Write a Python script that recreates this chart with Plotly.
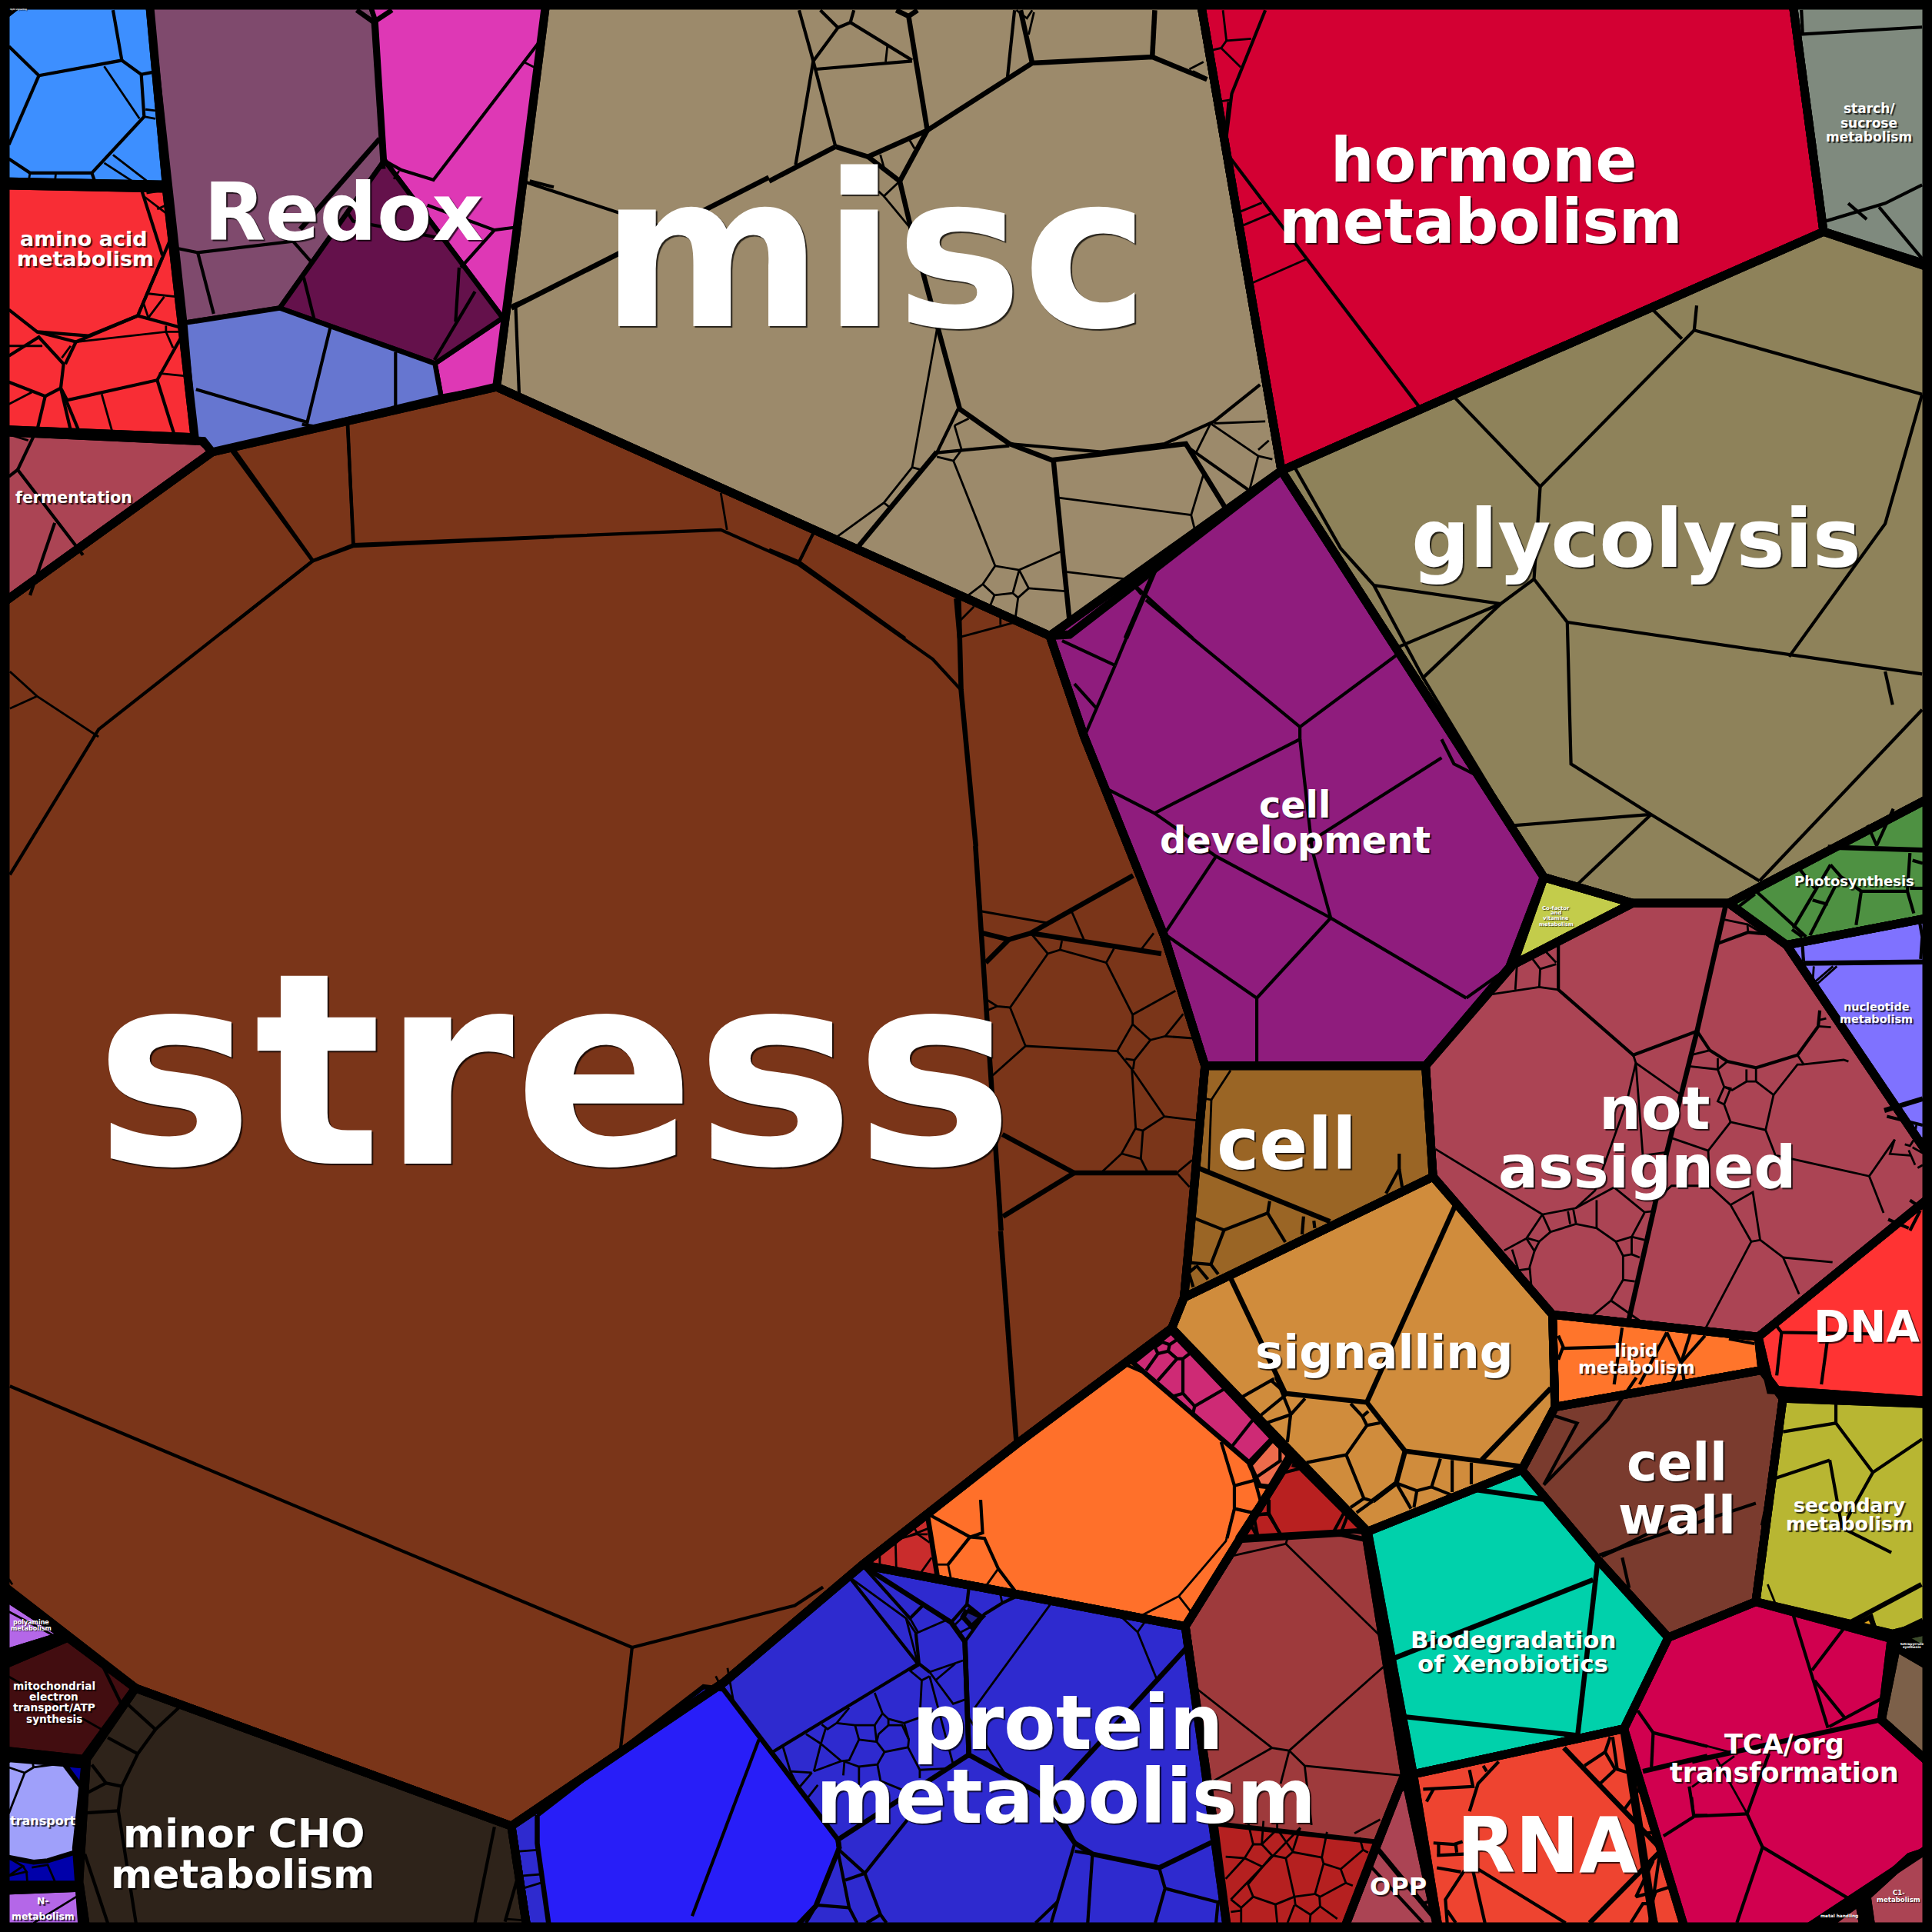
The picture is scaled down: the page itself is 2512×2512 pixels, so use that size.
import plotly.graph_objects as go

# crop frames in which boundary vertices were read: (x0, y0, scale_x, scale_y)
P = (0, 0, 2512 / 1568, 2512 / 1568)
Z1 = (0, 0, 720 / 1568, 820 / 1568)
Z2 = (0, 1960, 720 / 1568, 552 / 1568)
Z3 = (2100, 1000, 1 / 3, 600 / 1568)
Z5 = (2200, 2060, 1 / 3, 1 / 3)
Z7 = (900, 1950, 800 / 1568, 562 / 1568)
Z8 = (1850, 1150, 650 / 1568, 650 / 1568)
Z9 = (1000, 0, 720 / 1568, 830 / 1568)
Z10 = (1200, 1100, 1 / 3, 1 / 3)
Z11 = (1450, 1500, 600 / 1568, 1 / 3)
Z12 = (1520, 1950, 700 / 1568, 562 / 1568)

# region outlines: colour, frame, flat vertex list
regions = [
    ("#7A3519", P, [8,500,172,367,403,314,852,516,880,598,945,760,978,865,966,1000,961,1053,951,1078,825,1172,700,1270,588,1365,415,1482,110,1370,8,1275]),
    ("#9C8A6B", P, [445,8,972,8,1040,382,868,515,852,516,403,314]),
    ("#D30033", P, [972,8,1453,8,1480,188,1040,382]),
    ("#7F8A7E", P, [1453,8,1560,8,1560,220,1480,188]),
    ("#8E825A", P, [1040,382,1480,188,1560,222,1560,640,1403,733,1325,733,1253,712]),
    ("#8F1C7D", P, [1040,382,1253,712,1225,785,1157,865,978,865,945,760,880,598,852,516]),
    ("#C3CC4B", P, [1253,712,1325,733,1228,783]),
    ("#AB4454", P, [1325,733,1403,733,1450,767,1560,960,1427,1085,1260,1067,1163,955,1157,865,1228,783]),
    ("#4E9142", P, [1403,733,1560,640,1560,742,1450,767]),
    ("#7F72FF", P, [1450,767,1560,742,1560,960]),
    ("#FF3333", P, [1560,960,1560,1138,1437,1128,1427,1085]),
    ("#FF752B", P, [1260,1067,1427,1085,1430,1112,1262,1142]),
    ("#7A3B2E", P, [1262,1142,1430,1112,1447,1135,1425,1300,1354,1329,1296,1265,1235,1193]),
    ("#B8B632", P, [1447,1135,1560,1140,1560,1315,1536,1326,1425,1300]),
    ("#3B4A2A", P, [1542,1328,1560,1320,1560,1351]),
    ("#7C6049", P, [1539,1337,1560,1361,1560,1444,1527,1396]),
    ("#D1004F", P, [1354,1329,1425,1300,1535,1330,1527,1396,1560,1444,1560,1490,1509,1537,1443,1560,1345,1560,1318,1403]),
    ("#AB4454", P, [1459,1560,1509,1543,1515,1560]),
    ("#AB4454", P, [1515,1539,1550,1507,1560,1497,1560,1560,1521,1560]),
    ("#00D1AB", P, [1110,1243,1235,1193,1296,1265,1354,1329,1318,1403,1147,1440]),
    ("#EE4430", P, [1147,1440,1318,1403,1372,1560,1170,1560]),
    ("#AB4454", P, [1140,1440,1170,1560,1085,1560,1118,1495]),
    ("#FF702A", P, [951,1078,1048,1182,962,1320,700,1270,825,1172]),
    ("#9E3A3C", P, [962,1320,1048,1182,1108,1242,1140,1440,1118,1495,1085,1560,998,1560,985,1480]),
    ("#2E2ACF", P, [700,1270,962,1320,998,1560,430,1560,415,1482,588,1365]),
    ("#2E231A", P, [110,1370,415,1482,430,1560,68,1560,62,1500,70,1425]),
    ("#420D10", P, [8,1358,55,1329,110,1370,70,1428,8,1419]),
    ("#B467E8", P, [8,1285,52,1327,8,1347]),
    ("#0000AA", P, [8,1425,70,1432,64,1530,8,1530]),
    ("#B467E8", P, [8,1535,65,1532,72,1560,8,1560]),
    ("#3D8FFF", P, [8,25,35,8,120,8,135,150,8,147]),
    ("#F82D35", P, [8,150,135,153,158,355,8,348]),
    ("#AB4454", P, [8,350,165,358,172,367,8,500]),
    ("#D08C3C", P, [951,1078,961,1053,1163,955,1260,1067,1262,1142,1235,1193,1110,1243]),
    ("#9A6525", P, [978,865,1157,865,1163,955,961,1053,966,1000]),
]
# sub-group outlines, with a medium border
subregions = [
    ("#7F4A6D", P, [120,8,295,8,305,18,312,130,227,250,150,262]),
    ("#DE38B5", P, [295,8,445,8,403,314,358,322,353,295,408,258,312,130,305,18]),
    ("#64114B", P, [312,130,408,258,353,295,227,250]),
    ("#6676D0", P, [150,262,227,250,353,295,358,322,172,367,158,355]),
    ("#CE2A75", Z11, [190,695,535,1110,455,1205,60,815]),
    ("#EC6B4B", Z11, [535,1115,590,1175,525,1300,490,1295,458,1215]),
    ("#C92C2C", Z7, [445,232,600,60,625,280]),
    ("#B82020", P, [1048,1182,1108,1242,1005,1248]),
    ("#B52020", P, [985,1480,1118,1495,1085,1560,998,1560]),
    ("#281EF8", P, [436,1473,571,1369,587,1371,680,1493,681,1500,662,1547,630,1560,448,1560,436,1496]),
    ("#1E1E8A", Z7, [700,400,738,425,712,460,690,425]),
    ("#9FA0FA", Z2, [25,920,180,945,235,1040,222,1270,135,1305,95,1310,25,1275]),
    ("#E5A81E", Z5, [630,160,695,128,715,178]),
]

thin_lines = [
    (P, [[8,545,30,565,80,598],[8,575,30,565],[585,400,590,430],[648,458,660,433]]),
    (Z10, [[230,255,485,300],[580,255,630,370],[900,340,850,405],[425,345,487,420,535,405,715,455,745,400],[535,405,542,370],[487,420,340,630,290,625,250,600],[290,625,255,640],[340,630,400,780,272,895],[715,455,818,658,818,695,758,800,400,780],[818,658,985,565],[818,695,887,757,945,742,1015,655],[945,742,1055,750],[887,757,825,835,820,870],[790,830,825,835],[758,800,815,870,830,1100,775,1200,700,1270],[815,870,942,1055,1065,1070],[942,1055,858,1110,830,1103],[858,1110,850,1220,775,1200],[850,1220,875,1270],[990,1275,1050,1225],[990,1275,1040,1330],[1100,985,1125,990,1200,875],[1125,990,1115,1265]]),
    (Z8, [[210,345,365,322,425,330],[295,255,290,330],[345,235,368,265,365,322],[368,265,418,250],[385,210,418,245],[660,535,668,560,640,680,540,960,480,1015],[668,560,690,850,765,840],[668,560,810,660],[40,830,375,1035,480,1015,600,950],[375,1035,325,1110,255,1148],[375,1035,400,1090,480,1065,545,1078,605,1120,628,1165,628,1240,590,1305,530,1355],[455,1025,462,1065],[472,1020,480,1062],[545,990,545,1078],[600,950,695,1028,720,1025],[695,1030,655,1105,605,1120],[655,1105,695,1115],[655,1105,655,1160,628,1165],[655,1160,680,1170],[628,1240,665,1245],[590,1305,690,1375],[330,1110,365,1120,400,1090],[325,1110,350,1150,335,1200,342,1280],[335,1205,300,1210,280,1145],[365,1120,350,1150],[945,110,1018,125,1020,150],[1018,125,1060,150],[900,520,840,535],[835,570,925,580,955,555],[925,545,925,580],[925,580,945,635,970,645,1015,618,1045,618,1100,660,1175,565,1190,565,1320,550,1335,555],[1175,535,1195,565],[1240,445,1280,448],[1245,425,1265,420],[1015,580,1015,615],[1045,578,1045,618],[1100,660,1075,770,965,745,945,690,965,640,945,635,925,680,945,690],[1075,770,1110,860],[1480,800,1400,915,1110,850],[1400,915,1445,1030],[1480,800,1465,845,1530,850],[965,745,895,835,780,795],[895,835,900,945,965,1005,1030,1120,885,1395],[900,945,780,945,730,990],[965,1005,1035,965,1058,1115,1030,1120],[1058,1115,1130,1170,1180,1285],[1130,1170,1285,1185]]),
    (Z9, [[1320,525,1395,498],[1330,558,1420,525],[1360,698,1520,637],[335,112,330,152],[315,380,328,420],[395,340,412,365],[370,445,325,482,310,470],[325,482,395,555],[475,810,405,1148,325,1235,190,1320],[405,1148,435,1155],[325,1235,340,1245],[525,1045,565,1028],[525,1045,545,1105],[475,1122,522,1132,545,1105],[522,1132,640,1390,708,1400,825,1355],[640,1390,605,1435,560,1465],[605,1435,638,1462,690,1457,708,1400,735,1445,705,1468,690,1457],[638,1462,625,1490],[705,1468,697,1520],[735,1445,838,1452],[815,1222,1195,1265,1205,1300],[1195,1265,1230,1165],[843,1405,1005,1422],[1360,1205,1385,1120,1250,1040,1210,1110],[1385,1105,1415,1082],[1385,1120,1425,1128],[1260,1040,1405,1035],[1190,170,1230,152],[1200,175,1235,190],[735,85,750,30],[700,25,730,45,745,25],[1285,25,1295,100,1365,95],[1295,100,1280,118,1245,125],[1280,118,1335,165],[1270,250,1310,245],[1300,250,1290,340],[655,1515,655,1535],[540,1525,580,1490],[540,1565,690,1530]]),
    (Z7, [[60,640,78,690],[90,610,105,730],[400,280,545,430,575,595],[545,430,570,485,650,435],[555,430,575,480],[605,625,690,583],[605,625,665,740,695,725],[578,600,555,620,585,655,605,640],[585,655,580,790,540,810],[620,655,670,595],[230,890,250,985],[290,850,328,885,310,985],[330,815,345,832,368,810,400,755],[368,810,415,818,465,818,485,775,465,700],[340,830,328,885,380,948,400,945,425,870,415,818],[425,870,470,878,465,818],[470,878,490,915,550,898,580,980,580,1010],[470,878,475,850,500,818,535,818,552,870,550,898],[485,775,500,795,540,810,552,870],[500,795,500,818],[490,915,472,960,425,968,385,948],[310,985,380,948],[305,990,250,985,272,1045],[305,990,275,1040],[320,1035,295,1080],[425,968,425,1035],[472,960,480,1020,540,1055],[580,980,650,975],[605,640,665,960],[388,948,385,1000],[915,375,720,755],[700,780,750,890,795,990],[1090,420,1135,480,1185,655],[1155,440,1135,480],[665,460,690,425,712,460,685,480],[785,340,790,375],[478,190,478,240],[518,145,520,250],[520,145,570,125,600,125],[565,100,575,125,605,155],[580,270,610,210],[555,130,600,105],[652,235,620,235],[652,235,660,290],[780,250,750,310],[1382,0,1382,30,1425,48],[1382,30,1360,150,1240,350,1145,420],[1240,350,1270,405]]),
    (Z12, [[180,205,340,160,345,140],[340,160,620,500],[80,685,300,900,350,910,630,600],[300,900,130,1020],[350,910,325,1030],[350,910,395,965,675,1000],[395,965,415,1180],[540,1210,615,1160],[230,1170,245,1250,270,1250,275,1165],[165,1295,220,1300,245,1250],[270,1250,315,1195,315,1170],[315,1195,360,1275,382,1190],[270,1250,300,1290,340,1300,360,1278,445,1298,460,1205],[220,1300,270,1330],[220,1300,165,1375],[340,1300,365,1440,425,1430,450,1320,445,1298],[450,1320,500,1340,515,1390,440,1440,425,1430],[500,1340,565,1270,555,1225],[565,1270,580,1280],[515,1390,535,1400],[365,1440,310,1468,245,1440,230,1395,300,1290],[382,1190,180,1450],[245,1440,210,1480,180,1450],[210,1480,210,1535],[180,1495,210,1490],[310,1468,315,1535],[365,1470,345,1535],[365,1440,368,1470,412,1505,440,1475,490,1520],[438,1440,440,1475],[412,1505,410,1535]]),
    (Z3, [[775,670,770,730],[865,670,775,740],[850,670,770,730],[1175,1210,1165,1260,1150,1280,1130,1275],[1170,1250,1200,1255],[1160,1285,1200,1305],[1145,1295,1170,1345],[1180,1355,1200,1345]]),
    (Z1, [[295,165,395,295],[412,272,440,275],[408,290,440,295],[85,430,80,455],[158,432,155,455],[320,385,438,465],[295,405,395,462],[410,490,470,530],[415,480,450,475],[445,520,470,510],[420,730,500,738],[405,750,420,790],[420,790,465,738],[215,850,470,825,490,865],[470,810,470,825,510,825],[450,928,525,935],[288,980,320,1080],[25,1005,90,975],[175,890,200,860],[25,860,120,860],[25,1080,80,1095],[1485,155,1530,175],[1130,425,1115,445]]),
    (Z2, [[25,265,35,285],[25,385,155,475],[25,625,295,825],[25,960,70,980,95,960,180,945],[70,980,25,1130],[90,925,95,960],[25,940,50,920],[25,1295,65,1325,25,1360],[65,1325,75,1345,25,1360],[75,1345,78,1395],[90,1330,135,1320,160,1395],[220,1435,95,1535],[1435,1520,1485,1525],[1470,1270,1520,1265],[1480,1360,1530,1355],[1485,1405,1535,1385]]),
    (Z5, [[0,615,150,655],[95,680,215,895],[165,670,0,790],[0,830,8,905],[295,0,325,75],[700,115,720,180]]),
]
normal_lines = [
    (P, [[427,148,540,185],[254,455,80,592,8,710],[8,1125,513,1337,645,1303,668,1288],[513,1337,503,1425],[190,365,254,455],[282,345,287,442,254,455],[287,442,585,430,648,458,757,535,780,560],[1180,322,1250,395,1375,268,1560,320],[1340,250,1365,275],[1377,248,1375,268],[1250,395,1245,470,1272,505,1275,620,1340,661,1428,715],[1272,505,1560,547],[1560,320,1530,425,1452,533],[1530,545,1536,572],[1050,378,1088,445,1115,475,1155,550,1253,712],[1115,475,1218,490,1245,470],[1218,490,1155,550],[1135,525,1218,490],[1340,661,1228,670],[1340,661,1280,718],[1428,715,1560,576],[905,540,940,455],[880,598,905,540],[862,520,905,540],[872,555,890,575],[930,487,1055,590,1133,532],[1055,590,1055,600,937,660,898,640],[1055,600,1065,690,1080,745,1190,810],[1170,615,1060,685],[1170,600,1180,620,1200,630],[987,695,945,758],[945,758,1020,810,1080,745],[937,660,987,695,1080,745],[1020,810,1020,865],[1190,810,1225,785],[1447,1162,1490,1155,1520,1195,1560,1168],[1490,1155,1490,1135],[1485,1185,1495,1240,1520,1195],[1440,1200,1485,1185],[1438,1200,1430,1238],[1495,1240,1535,1260],[1253,1205,1305,1152,1328,1118],[1258,1148,1280,1155,1253,1205],[1298,1262,1425,1220],[1300,1263,1386,1221],[1458,28,1560,22],[1462,8,1463,28],[1480,180,1530,165,1560,150],[1525,168,1560,210],[1500,165,1515,178]]),
    (Z8, [[425,190,425,330,660,535,860,460],[860,460,900,520,955,555,1045,575,1175,535,1240,445,1245,395],[925,185,1020,150,1075,155],[1425,1410,1125,1405,1110,1385],[1125,1405,1110,1540],[1270,1420,1250,1568],[425,1415,440,1450,425,1490],[440,1455,610,1450],[625,1390,610,1500,600,1568],[765,1405,680,1568],[765,1405,810,1500,780,1568],[840,1405,810,1500],[885,1415,810,1500],[810,1500,820,1560],[1040,1440,960,1425]]),
    (Z1, [[320,25,345,150,110,188,25,115],[345,150,400,185,408,290,260,430,85,430,25,395],[110,188,25,360],[400,185,430,180],[260,430,272,460],[400,470,460,635],[25,770,105,825,250,835,390,785,460,640],[480,600,390,785,515,815],[215,850,390,785],[215,850,105,825],[25,885,110,838,180,905,172,965,190,995,445,945,515,835],[445,945,495,1085],[185,905,215,850],[172,965,128,985,25,950],[128,985,105,1070],[172,965,200,1070],[175,970,225,1075],[50,1168,95,1085],[25,1185,50,1168,235,1380],[155,1300,85,1480],[505,618,560,628,830,600,880,650],[560,628,605,780],[860,690,890,795],[1300,665,1290,800],[1345,725,1230,895],[985,530,1000,550,1235,590],[1090,400,1135,422,1230,448],[1225,450,1535,95],[1210,510,1400,572,1460,565],[1400,572,1305,665],[935,815,870,1050,555,968],[1120,875,1120,1010],[855,1055,890,1060],[1500,450,1568,465],[1450,760,1568,715],[1460,760,1470,980],[655,1120,885,1395,1000,1358,1568,1335],[985,1055,1000,1358],[885,1395,635,1568]]),
    (Z2, [[285,570,345,730],[360,725,440,820,510,735],[440,820,390,910,345,1030,335,1120,385,1535],[305,850,390,910],[260,950,300,1018,345,1030],[300,1018,250,1052],[335,1120,245,1128],[240,1280,305,1535],[1400,1180,1345,1535],[1465,1370,1430,1530]]),
    (Z3, [[730,590,735,655],[1185,505,1198,570,1192,645],[1060,1180,1200,1210],[1150,1465,1195,1495,1200,1495],[1065,1530,1145,1560],[1190,1500,1150,1568],[985,190,1020,260,1085,135],[840,325,695,540],[875,370,760,565],[840,325,880,365,960,415,1140,415,1150,285],[1160,310,1200,320],[1150,405,1200,405],[960,415,940,530],[1140,415,1165,490],[550,415,745,570],[715,335,780,405],[770,445,830,460],[545,425,485,465],[690,545,730,570]]),
    (Z5, [[395,120,530,560],[468,335,590,175],[478,375,595,520],[535,555,740,445],[300,660,215,895,275,1025,610,1225],[215,895,0,905],[275,1025,175,1320]]),
    (Z9, [[85,25,125,150,188,360],[125,150,75,405],[125,150,195,68,145,25],[195,68,230,55,240,25],[230,55,405,148],[132,170,405,150],[675,190,695,25],[0,1350,85,1380,385,1568],[125,1310,85,1380],[535,1005,475,1112,680,1095],[680,1090,940,1110,1120,1090,1260,1035,1390,945],[1180,1095,1360,1205],[1405,25,1310,230,1290,370],[1290,370,1850,1010],[1025,1430,1200,1568],[1025,1430,1055,1460]]),
    (Z7, [[170,870,0,1510],[435,240,555,430,590,380],[400,280,575,595,205,915],[570,485,578,595,605,625],[700,380,705,320],[700,380,660,445],[700,380,740,425,695,515],[710,465,745,415,790,375,830,348],[440,1355,390,1380],[370,1265,440,1355,560,1140],[440,1355,480,1505,495,1535],[480,1505,445,1535],[370,1265,400,1480,420,1535],[315,1470,400,1480],[315,1475,290,1535],[975,1245,930,1460,915,1535],[930,1460,875,1535],[1020,1285,1008,1535],[975,1275,1020,1285],[1190,1335,1205,1410,1180,1535],[1205,1410,1340,1460,1335,1535],[1340,1460,1360,1440],[605,55,708,135,740,120,735,0],[708,135,652,235],[708,135,745,140,780,250,825,335],[920,1080,975,1245],[1420,80,1440,135],[1435,55,1470,50,1500,130],[1470,50,1470,0]]),
    (Z11, [[525,185,518,232,370,298,265,250],[518,232,578,345],[370,298,325,432,250,425],[325,432,350,470],[275,435,315,490],[250,465,275,440],[250,465,265,520],[640,245,635,315],[675,262,678,290],[965,0,965,60,920,155],[965,60,975,130],[430,950,540,878],[545,870,596,1015],[530,885,580,935],[495,1020,580,940],[515,1050,596,1018,645,955],[596,1018,585,1125],[800,975,840,1025,855,1060,785,1175,650,1205],[840,1025,860,1005],[855,1060,900,1050],[785,1175,845,1345,875,1355],[875,1355,820,1400],[800,1380,845,1345],[955,1285,1005,1385],[955,1285,1025,1315,1015,1380],[1025,1315,1075,1300,1105,1190],[1075,1300,1140,1330],[1145,1195,1145,1320],[1210,1205,1210,1290],[160,735,185,745,210,725],[185,745,180,770,210,800,230,800,258,775],[180,770,145,780,135,755,160,735],[145,780,105,845],[210,800,145,885],[230,800,230,935,270,985,375,915],[230,935,200,945],[270,985,265,1010],[470,1035,398,1140],[560,1140,560,1200],[470,1270,565,1195],[360,1125,405,1295,405,1385,380,1500],[405,1295,470,1275],[405,1385,465,1400],[460,1215,495,1360,465,1400],[30,820,90,850],[520,1400,520,1320,570,1245,640,1225],[470,1410,520,1405,565,1490],[470,1410,485,1495],[780,1395,740,1480],[790,1410,770,1470,850,1480],[600,1215,630,1225]]),
    (Z12, [[1260,205,1360,150],[1320,210,1340,320],[1365,765,1410,845,1568,895],[1410,845,1405,970],[1515,1040,1528,1145,1568,1145],[1528,1150,1440,1220],[1210,965,1270,915,1298,975,1365,1000],[1270,915,1285,860],[1292,860,1305,975],[1298,980,1255,1030],[1375,1040,1325,1125],[1390,1210,1415,1205],[1430,1275,1400,1535],[1410,1310,1360,1440,1420,1420,1470,1400],[1395,1420,1415,1430,1405,1465,1380,1465,1345,1535],[1405,1465,1420,1535],[960,950,900,1030,875,1130],[875,980,885,1040,740,1050],[915,965,925,985],[770,1050,750,1095],[770,1245,830,1250,855,1240],[785,1250,785,1285],[835,1250,838,1280],[780,1290,860,1285],[780,1335,850,1350],[860,1345,805,1450,810,1535],[885,1345,920,1535],[900,1340,1155,1535],[810,1490,835,1535],[740,1465,780,1448],[580,1320,740,1535]]),
]
medium_lines = [
    (P, [[415,250,624,144],[778,485,780,560,792,687],[812,999,825,1172]]),
    (Z1, [[1010,25,1058,55,1110,25],[1058,55,1085,420],[1075,345,850,570]]),
    (Z3, [[735,660,1200,655],[830,265,1200,275],[1050,1160,1200,1120]]),
    (Z5, [[0,690,730,530],[895,0,605,155],[900,140,785,195]]),
    (Z7, [[705,925,695,515,660,445,435,240],[375,1230,705,925,885,1065,975,1245,1020,1285,1190,1335,1335,1235],[695,515,705,925],[1258,540,920,1065],[372,1235,375,1265]]),
    (Z8, [[950,65,860,460,765,840,645,1370]]),
    (Z9, [[188,360,280,385,448,320,745,155,1085,140,1240,195],[0,445,188,360],[448,320,395,40,360,25],[395,40,420,25],[745,155,712,25],[1085,140,1092,25],[280,385,370,445,448,320],[370,445,400,555,540,1005,680,1090,800,1130,1180,1090,1290,1245],[475,1110,250,1345],[805,1130,850,1520],[530,1470,540,1568],[1105,1375,1010,1568]]),
    (Z10, [[205,0,305,1500],[820,115,420,340,335,365,235,340],[245,455,335,365],[420,340,930,420],[310,1125,590,1275],[590,1275,312,1445],[590,1275,990,1275]]),
    (Z11, [[280,55,730,265],[1160,190,855,970],[390,480,578,935,855,970,985,1160,1380,1220],[1480,915,1245,1195],[985,1160,955,1285,875,1355],[415,1500,600,1180],[1230,1312,1465,1350]]),
    (Z12, [[1250,205,1190,855],[1235,290,645,580],[670,785,1190,855],[1150,900,1435,1270,1225,1535],[600,1255,785,1535],[680,1048,730,1050],[1380,985,1568,930],[205,148,500,125,575,145]]),
]

label_text = ["stress","misc","hormone","metabolism","glycolysis","Redox","amino acid","metabolism","fermentation","starch/","sucrose","metabolism","cell","development","cell","not","assigned","signalling","lipid","metabolism","DNA","cell","wall","secondary","metabolism","Biodegradation","of Xenobiotics","protein","metabolism","RNA","OPP","TCA/org","transformation","minor CHO","metabolism","N-","metabolism","transport","mitochondrial","electron","transport/ATP","synthesis","polyamine","metabolism","Photosynthesis","nucleotide","metabolism","Co-factor","and","vitamine","metabolism","tetrapyrrole","synthesis","metal handling","C1-","metabolism","light signalling"]
label_x = [450,710,1204,1202,1328,279,68,69,60,1517,1517,1517,1051,1051,1044,1343,1337,1123,1328,1328,1515,1361,1361,1501,1501,1228,1228,867,865,1256,1135,1448,1448,198,197,35,35,35,44,44,44,44,25,25,1505,1523,1523,1263,1263,1263,1263,1552,1552,1493,1541,1541,15]
label_y = [869,205,130,180,437,172,194,210,404,88,100,111,653,682,929,900,947,1097,1096,1110,1077,1187,1230,1222,1237,1331,1350,1398,1458,1498,1531,1416,1439,1488,1521,1543,1555,1478,1368,1377,1386,1395,1317,1322,715,817,827,737,741,745,750,1334,1337,1555,1536,1542,8]
label_size = [348,277,79.5,79.5,106,104,27,27,20.5,17,17,17,47.7,47.7,93,77,77,61,23,23,56.5,67,67,25,25,30.8,30.8,98.5,98.5,99,32,35,35,52,52,12.4,12.4,16,13.7,13.7,13.7,13.7,8,8,18,14.4,14.4,6.8,6.8,6.8,6.8,4.4,4.4,5.8,8.6,8.6,2.6]


def to_px(frame, flat):
    x0, y0, sx, sy = frame
    xs, ys = [], []
    for i in range(0, len(flat), 2):
        xs.append(x0 + flat[i] * sx)
        ys.append(y0 + flat[i + 1] * sy)
    return xs, ys


def snap(vals):
    # vertices on the canvas edge run under the outer frame
    return [-20 if v <= 14 else 2532 if v >= 2498 else v for v in vals]


fig = go.Figure()
for group, width in ((regions, 11), (subregions, 6.5)):
    for color, frame, flat in group:
        xs, ys = to_px(frame, flat)
        xs, ys = snap(xs), snap(ys)
        fig.add_trace(go.Scatter(x=xs + xs[:1], y=ys + ys[:1], mode="lines", fill="toself",
                                 fillcolor=color, line=dict(color="#000000", width=width),
                                 hoverinfo="skip", showlegend=False))

for group, width in ((thin_lines, 2.8), (normal_lines, 4.2), (medium_lines, 6.5)):
    X, Y = [], []
    for frame, polylines in group:
        for flat in polylines:
            xs, ys = to_px(frame, flat)
            X += xs + [None]
            Y += ys + [None]
    fig.add_trace(go.Scatter(x=X, y=Y, mode="lines", line=dict(color="#000000", width=width),
                             hoverinfo="skip", showlegend=False))

# redraw top-level outlines on top of the interior lines
for color, frame, flat in regions:
    xs, ys = to_px(frame, flat)
    xs, ys = snap(xs), snap(ys)
    fig.add_trace(go.Scatter(x=xs + xs[:1], y=ys + ys[:1], mode="lines",
                             line=dict(color="#000000", width=11),
                             hoverinfo="skip", showlegend=False))

scale = 2512 / 1568
for t, x, y, s in zip(label_text, label_x, label_y, label_size):
    shadow = "2px 2px 1px rgba(0,0,0,0.75)" if s >= 12 else "1px 1px 1px rgba(0,0,0,0.75)"
    fig.add_annotation(x=x * scale, y=y * scale, text=t, showarrow=False, xanchor="center", yanchor="middle",
                       font=dict(family="DejaVu Sans", size=s, color="#FFFFFF", weight="bold", shadow=shadow))

fig.add_shape(type="rect", x0=0, y0=0, x1=2512, y1=2512, line=dict(color="#000000", width=25), layer="above")
fig.update_layout(width=2512, height=2512, margin=dict(l=0, r=0, t=0, b=0),
                  paper_bgcolor="#000000", plot_bgcolor="#000000", showlegend=False,
                  xaxis=dict(range=[0, 2512], visible=False, fixedrange=True),
                  yaxis=dict(range=[2512, 0], visible=False, fixedrange=True))
fig.write_html("out.html", config={"displayModeBar": False},
               post_script="document.body.style.margin='0';document.body.style.background='#000';")
